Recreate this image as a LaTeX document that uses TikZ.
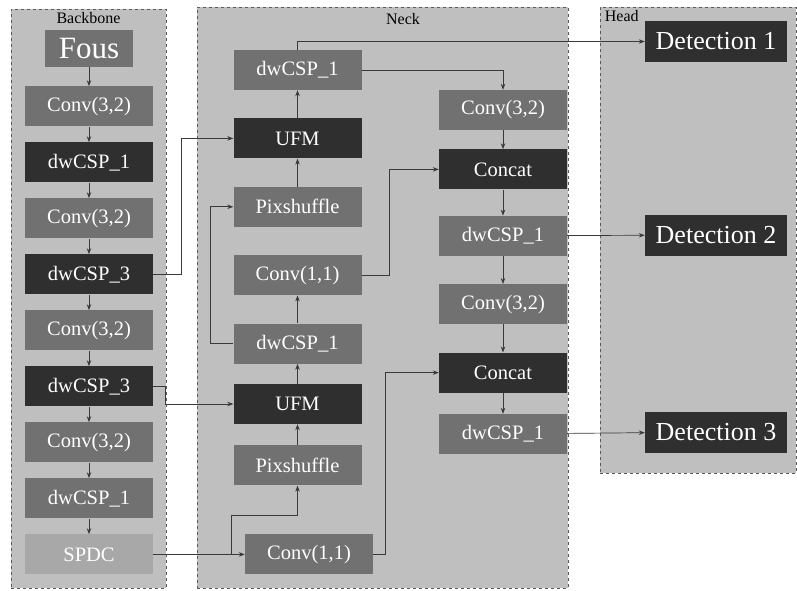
\documentclass[tikz,border=0pt]{standalone}
\usepackage{fontspec}
\setmainfont{Liberation Serif}
\usepackage{tikz}
\usetikzlibrary{positioning,arrows.meta,calc}
\definecolor{panelbg}{HTML}{BFBFBF}
\definecolor{panelln}{HTML}{5A5A5A}
\definecolor{midgray}{HTML}{717171}
\definecolor{darkgray}{HTML}{2F2F2F}
\definecolor{lightgray}{HTML}{A8A8A8}
\definecolor{wire}{HTML}{3A3A3A}

\begin{document}
\begin{tikzpicture}[x=1pt,y=-1pt,
  every node/.style={font=\fontsize{20.5}{23}\selectfont,align=center},
  panel/.style={rectangle,draw=panelln,dashed,fill=panelbg,line width=0.6pt,inner sep=0pt},
  lbl/.style={font=\fontsize{16}{18}\selectfont,text=black,inner sep=2pt},
  gblock/.style={rectangle,fill=midgray,text=white,minimum width=128pt,
                 minimum height=40pt,inner sep=0pt},
  dblock/.style={gblock,fill=darkgray},
  sblock/.style={gblock,fill=lightgray},
  hblock/.style={dblock,minimum width=142pt,minimum height=41pt,
                 font=\fontsize{26}{29}\selectfont},
  arr/.style={-{Stealth[length=6pt,width=4.5pt]},line width=0.7pt,wire},
]
\useasboundingbox (0,0) rectangle (797,590);

% panels
\node[panel,minimum width=155pt,minimum height=579pt] (bb) at (88.5,298.5) {};
\node[panel,minimum width=371pt,minimum height=581pt] (nk) at (382.5,297.5) {};
\node[panel,minimum width=196pt,minimum height=466pt] (hd) at (698,240) {};
\node[lbl,below=1pt of bb.north] (bbl) {Backbone};
\node[lbl] (nkl) at (403,19) {Neck};
\node[lbl,below right=1pt and 3pt of hd.north west] (hdl) {Head};

% backbone
\node[gblock,minimum width=88pt,minimum height=37pt,
      font=\fontsize{31}{33}\selectfont] (b1) at (89,48.5) {Fous};
\node[gblock,below=19pt of b1] (b2) {Conv(3,2)};
\node[dblock,below=15.6pt of b2] (b3) {dwCSP\_1};
\node[gblock,below=15.6pt of b3] (b4) {Conv(3,2)};
\node[dblock,below=15.6pt of b4] (b5) {dwCSP\_3};
\node[gblock,below=15.6pt of b5] (b6) {Conv(3,2)};
\node[dblock,below=15.6pt of b6] (b7) {dwCSP\_3};
\node[gblock,below=15.6pt of b7] (b8) {Conv(3,2)};
\node[gblock,below=15.6pt of b8] (b9) {dwCSP\_1};
\node[sblock,below=15.6pt of b9] (b10) {SPDC};

% neck, first column
\node[gblock] (n1) at (297.5,70) {dwCSP\_1};
\node[dblock,below=28pt of n1] (n2) {UFM};
\node[gblock,below=28pt of n2] (n3) {Pixshuffle};
\node[gblock,below=28pt of n3] (n4) {Conv(1,1)};
\node[gblock,below=28pt of n4] (n5) {dwCSP\_1};
\node[dblock,below=20pt of n5] (n6) {UFM};
\node[gblock,below=21pt of n6] (n7) {Pixshuffle};
\node[gblock] (n8) at ($(b10)+(220,0)$) {Conv(1,1)};

% neck, second column
\node[gblock] (c1) at (503,110) {Conv(3,2)};
\node[dblock,below=19pt of c1] (c2) {Concat};
\node[gblock,below=26pt of c2] (c3) {dwCSP\_1};
\node[gblock,below=28pt of c3] (c4) {Conv(3,2)};
\node[dblock,below=28pt of c4] (c5) {Concat};
\node[gblock,below=21pt of c5] (c6) {dwCSP\_1};

% head
\node[hblock] (h1) at (716,41.5) {Detection 1};
\node[hblock] (h2) at (716,235) {Detection 2};
\node[hblock] (h3) at (716,432) {Detection 3};

\draw[arr] (b1) -- (b2);
\draw[arr] (b2) -- (b3);
\draw[arr] (b3) -- (b4);
\draw[arr] (b4) -- (b5);
\draw[arr] (b5) -- (b6);
\draw[arr] (b6) -- (b7);
\draw[arr] (b7) -- (b8);
\draw[arr] (b8) -- (b9);
\draw[arr] (b9) -- (b10);

\draw[arr] (b5.east) -- ++(28,0) |- (n2.west);
\draw[arr] (b7.east) -- ++(12,0) |- (n6.west);
\draw[arr] (b10.east) -- (n8.west);
\draw[arr] (b10.east) -- ++(78,0) |- ($(n7.south)+(0,30)$) -- (n7.south);

\draw[arr] (n2) -- (n1);
\draw[arr] (n3) -- (n2);
\draw[arr] (n5) -- (n4);
\draw[arr] (n6) -- (n5);
\draw[arr] (n7) -- (n6);
\draw[arr] (n5.west) -- ++(-23,0) |- (n3.west);

\draw[arr] (n1.east) -| (c1.north);
\draw[arr] (n1.north) |- (h1.west);
\draw[arr] (n4.east) -- ++(28,0) |- (c2.west);
\draw[arr] (n8.east) -- ++(12,0) |- (c5.west);

\draw[arr] (c1) -- (c2);
\draw[arr] (c2) -- (c3);
\draw[arr] (c3) -- (c4);
\draw[arr] (c4) -- (c5);
\draw[arr] (c5) -- (c6);

\draw[arr] (c3) -- (h2);
\draw[arr] (c6) -- (h3);
\end{tikzpicture}
\end{document}
